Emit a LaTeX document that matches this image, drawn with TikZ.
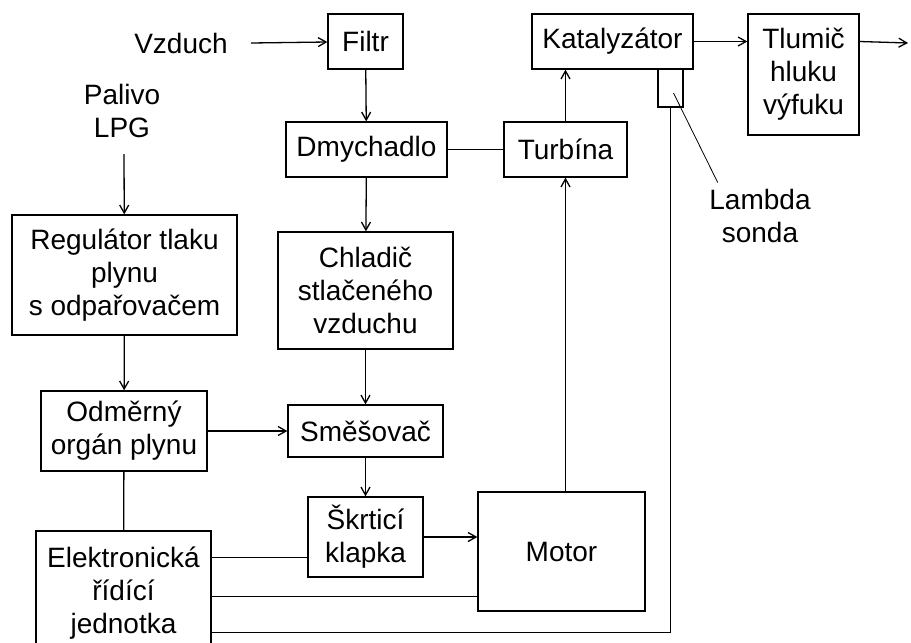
\documentclass[tikz,border=0pt]{standalone}
\usepackage{fontspec}
\setmainfont{Liberation Sans}
\usetikzlibrary{arrows.meta}

\begin{document}
\begin{tikzpicture}[x=1pt, y=-1pt, line width=1.3pt,
	>={Straight Barb[length=8pt,width=9pt]},
	font=\fontsize{28}{33}\selectfont,
	blok/.style={draw, align=center, inner sep=0pt}]
	\useasboundingbox (0,0) rectangle (911,643);
	\fill[white] (0,0) rectangle (911,643);
	% inputs
	\node (vzduch) at (181,43) {Vzduch};
	\coordinate (vzin) at (251,43);
	\node[align=center, inner sep=0pt] (palivo) at (122,111) {Palivo\\LPG};
	\coordinate (lpgin) at (124,154);
	% air path
	\node[blok, minimum width=75pt, minimum height=55pt] (filtr) at (365.5,41.5) {Filtr};
	\node[blok, minimum width=161pt, minimum height=55pt] (dmych) at (366.5,149.5) {Dmychadlo};
	\node[blok, minimum width=175pt, minimum height=117pt] (chlad) at (365.5,290.5) {Chladič\\stlačeného\\vzduchu};
	\node[blok, minimum width=155pt, minimum height=52pt] (smes) at (365.5,431) {Směšovač};
	\node[blok, minimum width=115pt, minimum height=80pt] (skrt) at (365.5,537) {Škrticí\\klapka};
	% gas path
	\node[blok, minimum width=225pt, minimum height=120pt] (reg) at (124.5,275) {Regulátor tlaku\\plynu\\s odpařovačem};
	\node[blok, minimum width=166pt, minimum height=80pt] (odm) at (124,431) {Odměrný\\orgán plynu};
	\node[blok, minimum width=175pt, minimum height=124pt] (ecu) at (123.5,593) {Elektronická\\řídící\\jednotka};
	% engine and exhaust
	\node[blok, minimum width=167pt, minimum height=119pt] (motor) at (561.5,551.5) {Motor};
	\node[blok, minimum width=123pt, minimum height=55pt] (turb) at (565.5,149.5) {Turbína};
	\node[blok, minimum width=161pt, minimum height=55pt] (kat) at (612.5,41.5) {Katalyzátor};
	\node[blok, minimum width=25pt, minimum height=38pt] (lsonda) at (670.5,88) {};
	\node[blok, minimum width=111pt, minimum height=121pt] (tlum) at (803.5,74.5) {Tlumič\\hluku\\výfuku};
	\node[align=center, inner sep=0pt] (lbl) at (760,216) {Lambda\\sonda};
	\coordinate (vyfuk) at (908,43);
	% connections
	\draw[->] (vzin) -- (filtr);
	\draw[->] (filtr) -- (dmych);
	\draw[->] (dmych) -- (chlad);
	\draw[->] (chlad) -- (smes);
	\draw[->] (smes) -- (skrt);
	\draw[->] (lpgin) -- (reg);
	\draw[->] (reg) -- (odm);
	\draw[->] (odm) -- (smes);
	\draw (odm) -- (ecu);
	\draw[->] (skrt) -- (skrt -| motor.west);
	\draw (dmych) -- (turb);
	\draw[->] (turb.south |- motor.north) -- (turb.south);
	\draw[->] (turb.north) -- (turb.north |- kat.south);
	\draw[->] (kat.east) -- (kat.east -| tlum.west);
	\draw[->] (kat.east -| tlum.east) -- (vyfuk);
	% control lines
	\draw ([yshift=-27pt]ecu.north east) -- ([yshift=-27pt]ecu.north east -| skrt.west);
	\draw ([yshift=-66pt]ecu.north east) -- ([yshift=-66pt]ecu.north east -| motor.west);
	\draw ([yshift=-102pt]ecu.north east) -| (lsonda.south);
	% lambda label
	\draw[line width=0.8pt] ([shift={(3,5)}]lsonda.center) -- ([xshift=9pt,yshift=6pt]lbl.north west);
\end{tikzpicture}
\end{document}
